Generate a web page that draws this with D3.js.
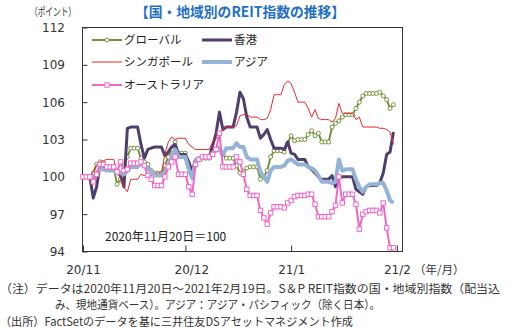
<!DOCTYPE html>
<html><head><meta charset="utf-8">
<script src="https://cdn.jsdelivr.net/npm/d3@7"></script>
<style>body{margin:0;background:#fff}svg{display:block}</style>
</head><body><svg id="c" width="511" height="328"></svg>
<script>
const startDate = new Date(2020,10,20);
const nDays = 92;
const dates = d3.range(nDays).map(i => d3.timeDay.offset(startDate, i));

const seriesNames = ["グローバル","香港","シンガポール","アジア","オーストラリア"];
const globalVals = [100.0,
 100.0,100.0,100.3,101.0,101.2,101.1,100.7,
 100.7,100.7,99.4,99.8,100.9,101.6,102.3,
 102.3,102.3,101.5,101.2,101.0,100.5,100.3,
 100.3,100.3,100.9,101.6,102.2,102.8,101.9,
 101.9,101.9,101.0,100.3,101.2,101.4,101.5,
 101.5,101.5,101.8,102.2,102.3,101.8,101.5,
 101.5,101.5,100.9,100.3,100.4,100.7,100.8,
 100.8,100.8,99.8,100.0,100.5,101.6,102.1,
 102.1,102.1,102.0,102.7,103.3,102.9,103.0,
 103.0,103.0,103.4,103.7,103.3,103.5,102.8,
 102.8,102.8,104.0,104.3,104.5,104.8,105.0,
 105.0,105.0,105.5,106.0,106.5,106.7,106.7,
 106.7,106.7,106.8,106.5,106.2,105.5,105.8];
const hongkongVals = [100.0,
 100.0,100.0,98.3,99.2,101.0,100.8,100.6,
 100.6,100.6,100.4,100.1,99.2,103.9,104.0,
 104.0,104.0,102.6,101.5,102.2,102.3,102.4,
 102.4,102.4,101.7,102.0,102.4,102.6,101.8,
 101.8,101.8,101.2,100.4,101.4,101.4,101.6,
 101.6,101.6,102.5,103.5,105.2,103.8,104.0,
 104.0,104.0,105.2,106.8,106.3,104.8,104.0,
 104.0,104.0,103.1,103.4,103.8,103.0,102.3,
 102.3,102.3,102.2,102.8,101.9,101.8,101.4,
 101.4,101.4,100.8,100.6,100.3,100.0,99.8,
 99.8,99.8,100.1,99.2,99.9,100.0,100.0,
 100.0,100.0,99.0,98.8,98.6,99.2,99.3,
 99.3,99.3,99.5,100.3,101.8,102.0,103.6];
const singaporeVals = [100.0,
 100.0,100.0,100.4,101.0,101.2,101.3,101.4,
 101.4,101.4,100.3,99.9,99.1,98.8,99.8,
 99.8,99.8,100.2,100.1,100.0,100.1,100.3,
 100.3,100.3,101.8,102.8,103.2,103.0,103.1,
 103.1,103.1,102.6,102.4,102.2,102.2,102.2,
 102.2,102.2,102.8,103.1,103.2,103.9,104.0,
 104.0,104.0,104.1,104.9,105.0,105.0,104.8,
 104.8,104.8,104.6,104.6,104.7,105.4,106.6,
 106.6,106.6,107.4,107.7,107.5,106.8,106.0,
 106.0,106.0,105.5,104.8,105.4,104.7,104.6,
 104.6,104.6,104.4,104.7,105.9,105.1,105.1,
 105.1,105.1,104.6,104.8,104.0,104.0,104.0,
 104.0,104.0,103.9,103.9,103.8,103.6,102.6];
const asiaVals = [100.0,
 100.0,100.0,99.8,100.3,100.6,100.6,100.5,
 100.5,100.5,100.3,100.3,100.2,100.5,100.8,
 100.8,100.8,101.1,100.9,100.7,100.4,100.1,
 100.1,100.1,100.4,100.9,101.6,102.2,101.6,
 101.6,101.6,100.6,99.9,101.3,101.5,101.6,
 101.6,101.6,101.9,102.1,102.2,101.8,102.3,
 102.3,102.3,102.7,102.4,102.4,101.6,101.4,
 101.4,101.4,100.4,100.0,99.6,100.5,100.8,
 100.8,100.8,100.9,101.3,101.4,101.2,101.0,
 101.0,101.0,100.8,100.7,100.5,100.1,99.6,
 99.6,99.6,99.5,99.6,101.4,100.5,100.6,
 100.6,100.6,99.8,99.2,98.8,99.2,99.4,
 99.4,99.4,99.5,99.5,98.9,98.1,97.9];
const australiaVals = [100.0,
 100.0,100.0,99.6,100.2,101.0,101.0,100.8,
 100.8,100.8,100.4,101.2,100.5,100.6,101.1,
 101.1,101.1,101.2,100.9,100.1,99.8,99.3,
 99.3,99.3,100.0,100.8,101.2,101.6,100.2,
 100.2,100.2,99.2,98.6,101.0,101.4,101.6,
 101.6,101.6,101.8,102.2,103.5,100.8,100.8,
 100.8,100.8,101.6,101.2,100.2,99.0,98.5,
 98.5,98.5,97.3,96.7,96.2,97.1,97.6,
 97.6,97.6,97.5,97.9,98.1,98.4,98.5,
 98.5,98.5,98.6,98.6,97.8,96.8,96.8,
 96.8,96.8,97.2,97.7,100.0,97.9,98.6,
 98.6,98.6,97.8,95.8,97.0,97.2,97.3,
 97.3,97.3,97.1,97.9,95.9,94.3,94.3];

const yTicks = [94,97,100,103,106,109,112];
const xTickDates = [new Date(2020,10,20), new Date(2020,11,20), new Date(2021,0,20), new Date(2021,1,20)];
const xTickLabels = ["20/11","20/12","21/1","21/2"];

const styles = [
  {color:"#77933c", w:2, marker:"circle"},
  {color:"#4f3f6e", w:3, marker:null},
  {color:"#e8262d", w:1, marker:null},
  {color:"#95b3d7", w:4, marker:null},
  {color:"#f266c8", w:2, marker:"square"}
];
const allVals = [globalVals, hongkongVals, singaporeVals, asiaVals, australiaVals];

const svg = d3.select("#c");
const L=82.5, R=402.5, T=27.5, B=251.5;
const x = d3.scaleTime().domain([startDate, new Date(2021,1,21,12)]).range([83,402]);
const y = d3.scaleLinear().domain([94,112]).range([B,T]);

const jp = "'Noto Sans CJK JP','Noto Sans',sans-serif";
const num = "'DejaVu Sans',Verdana,sans-serif";

// title
svg.append("text").attr("x",240).attr("y",17).attr("text-anchor","middle")
  .attr("font-family",jp).attr("font-weight","bold").attr("font-size",14)
  .attr("textLength",210).attr("lengthAdjust","spacingAndGlyphs")
  .attr("fill","#1f6fc5").text("【国・地域別のREIT指数の推移】");
svg.append("text").attr("x",30).attr("y",16).attr("font-family",jp).attr("font-size",11)
  .attr("textLength",46).attr("lengthAdjust","spacingAndGlyphs")
  .attr("fill","#333").text("（ポイント）");

// axes
const ya = svg.append("g").attr("transform",`translate(${L},0)`)
  .call(d3.axisLeft(y).tickValues(yTicks).tickSize(-5).tickPadding(17.5));
ya.select(".domain").remove();
ya.selectAll("text").attr("font-family",num).attr("font-size",12).attr("fill","#333");
ya.selectAll("line").attr("stroke","#333");

const xa = svg.append("g").attr("transform",`translate(0,${B})`)
  .call(d3.axisBottom(x).tickValues(xTickDates).tickSize(-6).tickPadding(14)
    .tickFormat((d,i)=>xTickLabels[i]));
xa.select(".domain").remove();
xa.selectAll("text").attr("font-family",num).attr("font-size",12).attr("fill","#333")
  .attr("dx",(d,i)=> i===1 ? 6 : 0);
xa.selectAll("line").attr("stroke","#333");
svg.append("text").attr("x",414).attr("y",274).attr("font-family",jp).attr("font-size",11.5)
  .attr("fill","#333").text("（年/月）");

// frame
svg.append("rect").attr("x",L).attr("y",T).attr("width",R-L).attr("height",B-T)
  .attr("fill","none").attr("stroke","#333").attr("stroke-width",1);

// series
const line = d3.line().x((d,i)=>x(dates[i])).y(d=>y(d));
allVals.forEach((vals,k)=>{
  const s = styles[k];
  const g = svg.append("g");
  g.append("path").datum(vals).attr("d",line).attr("fill","none")
    .attr("stroke",s.color).attr("stroke-width",s.w).attr("stroke-linejoin","round");
  if (s.marker==="circle") {
    g.selectAll("circle").data(vals).join("circle")
      .attr("cx",(d,i)=>x(dates[i])).attr("cy",d=>y(d)).attr("r",2)
      .attr("fill","#fff").attr("stroke",s.color).attr("stroke-width",1);
  } else if (s.marker==="square") {
    g.selectAll("rect").data(vals).join("rect")
      .attr("x",(d,i)=>x(dates[i])-2.2).attr("y",d=>y(d)-2.2).attr("width",4.4).attr("height",4.4)
      .attr("fill","#fff").attr("stroke",s.color).attr("stroke-width",1);
  }
});

// legend
const legPos = [[92,40],[202,40],[92,62],[202,62],[92,85]];
seriesNames.forEach((name,k)=>{
  const s = styles[k], [lx,ly] = legPos[k];
  const g = svg.append("g");
  g.append("line").attr("x1",lx).attr("x2",lx+30).attr("y1",ly).attr("y2",ly)
    .attr("stroke",s.color).attr("stroke-width",s.w);
  if (s.marker==="circle") g.append("circle").attr("cx",lx+15).attr("cy",ly).attr("r",2)
    .attr("fill","#fff").attr("stroke",s.color);
  if (s.marker==="square") g.append("rect").attr("x",lx+12.8).attr("y",ly-2.2).attr("width",4.4).attr("height",4.4)
    .attr("fill","#fff").attr("stroke",s.color);
  g.append("text").attr("x",lx+32).attr("y",ly+4).attr("font-family",jp).attr("font-size",11.5)
    .attr("fill","#222").text(name);
});

// annotation
svg.append("text").attr("x",105).attr("y",241).attr("font-family",jp).attr("font-size",12)
  .attr("fill","#222").text("2020年11月20日＝100");

// notes
const notes = [
  {t:"（注）データは2020年11月20日～2021年2月19日。S＆P REIT指数の国・地域別指数（配当込", x:0, y:293, w:500},
  {t:"み、現地通貨ベース）。アジア：アジア・パシフィック（除く日本）。", x:55, y:309, w:325},
  {t:"（出所）FactSetのデータを基に三井住友DSアセットマネジメント作成", x:0, y:326, w:353}
];
notes.forEach(n=>{
  svg.append("text").attr("x",n.x).attr("y",n.y).attr("font-family",jp).attr("font-size",11.5)
    .attr("textLength",n.w).attr("lengthAdjust","spacingAndGlyphs")
    .attr("fill","#333").text(n.t);
});
</script></body></html>
